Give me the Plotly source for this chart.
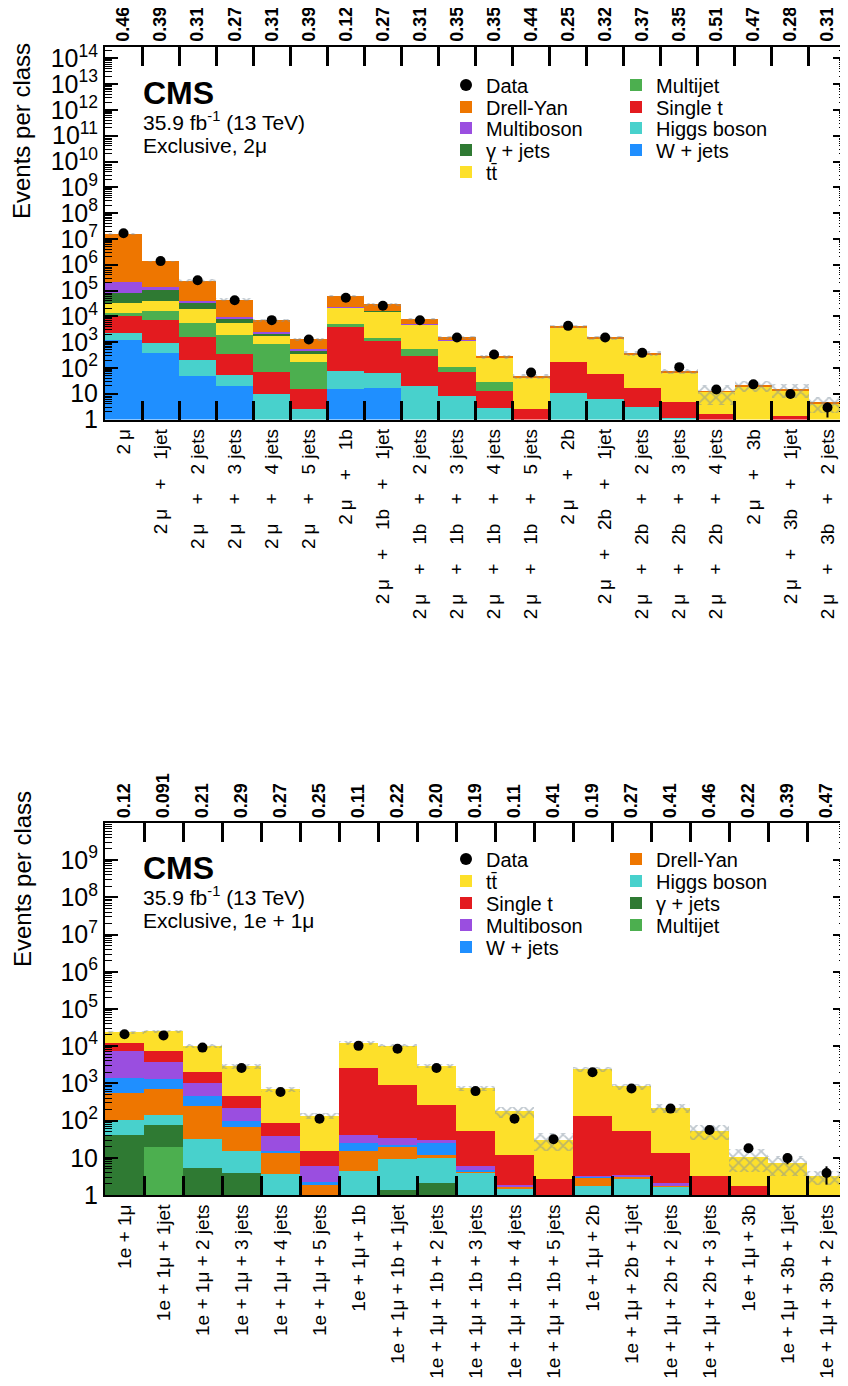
import numpy as np
import plotly.graph_objects as go

# ---------------- data: top panel (exclusive, 2 mu) ----------------
classes_2mu = ["2 μ", "2 μ + 1jet", "2 μ + 2 jets", "2 μ + 3 jets", "2 μ + 4 jets", "2 μ + 5 jets",
               "2 μ + 1b", "2 μ + 1b + 1jet", "2 μ + 1b + 2 jets", "2 μ + 1b + 3 jets",
               "2 μ + 1b + 4 jets", "2 μ + 1b + 5 jets",
               "2 μ + 2b", "2 μ + 2b + 1jet", "2 μ + 2b + 2 jets", "2 μ + 2b + 3 jets", "2 μ + 2b + 4 jets",
               "2 μ + 3b", "2 μ + 3b + 1jet", "2 μ + 3b + 2 jets"]
pvals_2mu = ["0.46", "0.39", "0.31", "0.27", "0.31", "0.39", "0.12", "0.27", "0.31", "0.35",
             "0.35", "0.44", "0.25", "0.32", "0.37", "0.35", "0.51", "0.47", "0.28", "0.31"]

wjets_2mu = [1260, 383, 49, 20, 0, 0, 15, 17, 0, 0, 0, 0, 0, 0, 0, 0, 0, 0, 0, 0]
higgs_2mu = [1090, 557, 163, 35, 10, 2.6, 60, 47, 21, 8.5, 2.9, 0.3, 10.5, 6.3, 3.2, 1.2, 0, 0, 0, 0]
singlet_2mu = [8050, 6160, 1390, 305, 60, 12.4, 3825, 1116, 272, 61, 10, 2.2, 161, 56, 14, 3.6, 1.7, 0.5, 1.4, 0.3]
multijet_2mu = [3600, 9200, 4160, 1500, 820, 158, 1350, 240, 240, 40, 16, 0, 0, 0, 0, 0, 0, 0, 0, 0]
ttbar_2mu = [19000, 25700, 14200, 3740, 970, 187, 16750, 14900, 4470, 1070, 223, 42.8, 3730, 1318, 333, 65, 10.5, 19.5, 12.6, 4.0]
gjets_2mu = [48000, 70000, 14000, 2600, 290, 130, 500, 200, 50, 10, 2, 0, 0, 0, 0, 0, 0, 0, 0, 0]
multiboson_2mu = [137000, 27000, 8000, 1600, 350, 90, 500, 200, 60, 15, 3, 0, 5, 2, 0.5, 0, 0, 0, 0, 0]
dy_2mu = [1.578e7, 1.23e6, 208000, 35200, 4600, 760, 41000, 12800, 3090, 395, 23, 4, 350, 130, 35, 7, 0.5, 2, 1.2, 0.3]
data_2mu = [1.65e7, 1.38e6, 2.5e5, 42000, 7100, 1260, 52000, 25500, 7000, 1500,
            330, 66, 4270, 1500, 383, 107, 14.5, 23, 9.8, 2.9]
data_err_2mu = [4100, 1175, 500, 205, 84, 35, 228, 160, 84, 39, 18, 8.1, 65, 39, 20, 10.3, 3.8, 4.8, 3.1, 1.7]
mcunc_2mu = [0.08, 0.08, 0.1, 0.12, 0.12, 0.15, 0.08, 0.1, 0.1, 0.12,
             0.18, 0.22, 0.15, 0.15, 0.2, 0.25, 0.7, 0.45, 0.55, 0.6]

# ---------------- data: bottom panel (exclusive, 1e + 1mu) ----------------
classes_emu = ["1e + 1μ", "1e + 1μ + 1jet", "1e + 1μ + 2 jets", "1e + 1μ + 3 jets", "1e + 1μ + 4 jets",
               "1e + 1μ + 5 jets", "1e + 1μ + 1b", "1e + 1μ + 1b + 1jet", "1e + 1μ + 1b + 2 jets",
               "1e + 1μ + 1b + 3 jets", "1e + 1μ + 1b + 4 jets", "1e + 1μ + 1b + 5 jets",
               "1e + 1μ + 2b", "1e + 1μ + 2b + 1jet", "1e + 1μ + 2b + 2 jets", "1e + 1μ + 2b + 3 jets",
               "1e + 1μ + 3b", "1e + 1μ + 3b + 1jet", "1e + 1μ + 3b + 2 jets"]
pvals_emu = ["0.12", "0.091", "0.21", "0.29", "0.27", "0.25", "0.11", "0.22", "0.20", "0.19",
             "0.11", "0.41", "0.19", "0.27", "0.41", "0.46", "0.22", "0.39", "0.47"]

multijet_emu = [0, 19.3, 0, 0, 0, 0, 0, 0, 0, 0, 0, 0, 0, 0, 0, 0, 0, 0, 0]
gjets_emu = [41, 55, 5.3, 3.9, 0, 0, 0, 1.3, 2.1, 0, 0, 0, 0, 0, 0, 0, 0, 0, 0]
higgs_emu = [62, 68, 26.7, 11.1, 3.5, 0.6, 4.3, 7.8, 7.7, 4.0, 1.45, 0, 1.66, 2.7, 1.6, 0, 0, 0, 0]
dy_emu = [422, 548, 215, 51, 9.9, 1.25, 11.1, 9.9, 1.8, 0.3, 0.15, 0, 1.29, 0.3, 0.2, 0, 0, 0, 0]
wjets_emu = [815, 570, 200, 29, 1.4, 0.35, 9.2, 2.8, 13, 0.3, 0.05, 0, 0.1, 0, 0, 0, 0, 0, 0]
multiboson_emu = [6120, 2390, 553, 119, 23.8, 3.6, 16.4, 12.2, 4.4, 1.4, 0.2, 0, 0.15, 0.3, 0.2, 0, 0, 0, 0]
singlet_emu = [4540, 3810, 1030, 233, 45.4, 9.2, 2460, 856, 228, 45, 9.8, 2.6, 126, 47.7, 10.8, 3.2, 1.7, 0.5, 0.3]
ttbar_emu = [11000, 17000, 7770, 2420, 606, 119, 9500, 9310, 2610, 679, 162, 27, 2210, 759, 201, 49, 8.8, 6.5, 2.8]
data_emu = [21000, 19500, 9150, 2590, 584, 112, 10200, 8500, 2590, 620, 112, 31.6, 1990, 730, 210, 56, 18, 9.8, 3.9]
data_err_emu = [145, 140, 96, 51, 24, 10.6, 101, 92, 51, 25, 10.6, 5.6, 45, 27, 14.5, 7.5, 4.2, 3.1, 2.0]
mcunc_emu = [0.1, 0.1, 0.12, 0.14, 0.17, 0.2, 0.1, 0.1, 0.12, 0.15,
             0.33, 0.5, 0.15, 0.18, 0.27, 0.45, 0.6, 0.55, 0.42]

# ---------------- styling ----------------
FONT = "Liberation Sans, Arial, Helvetica, sans-serif"
COL = {
    "dy": "#ee7600", "multiboson": "#9a4ee0", "gjets": "#2f7a33", "ttbar": "#fde02a",
    "multijet": "#4caf4f", "singlet": "#e31b1f", "higgs": "#48d1cc", "wjets": "#1f8fff",
}
NAMES = {
    "dy": "Drell-Yan", "multiboson": "Multiboson", "gjets": "γ + jets", "ttbar": "tt\u0304",
    "multijet": "Multijet", "singlet": "Single t", "higgs": "Higgs boson", "wjets": "W + jets",
}

# page body has an 8 px margin: work in window pixels, convert to paper
OFF = 8
W, H = 840, 1378
LEG_FONT = 20
LEG_CENTER_OFF = (LEG_FONT * 1.3 + 3) / 2 + 5


def px(sx):
    return (sx - OFF) / W


def py(sy):
    return 1 - (sy - OFF) / H


fig = go.Figure()
legends = {}
leg_counter = [0]


def new_legend(text_x, row_y):
    leg_counter[0] += 1
    name = "legend" if leg_counter[0] == 1 else "legend%d" % leg_counter[0]
    legends[name] = dict(bgcolor="rgba(0,0,0,0)", font=dict(family=FONT, size=LEG_FONT, color="black"),
                         xanchor="left", yanchor="top", itemsizing="constant", itemwidth=30,
                         borderwidth=0, x=px(text_x - 40), y=py(row_y - LEG_CENTER_OFF))
    return name


def add_panel(xa, ya, xtop, classes, comps, order, rows, data, derr, unc):
    base = np.full(len(classes), 0.01)
    for key in order:
        vals = np.array(comps[key], dtype=float)
        fig.add_trace(go.Bar(
            x=classes, y=vals, base=base.copy(), xaxis=xa, yaxis=ya,
            marker=dict(color=COL[key], line=dict(width=0)),
            name=NAMES[key], legend=new_legend(*rows[key]), hoverinfo="skip",
        ))
        base = base + vals
    total = base - 0.01
    u = np.array(unc)
    fig.add_trace(go.Bar(
        x=classes, y=2 * u * total, base=total * (1 - u), xaxis=xa, yaxis=ya,
        marker=dict(color="rgba(0,0,0,0)", line=dict(width=0),
                    pattern=dict(shape="x", fgcolor="#7f909e", bgcolor="rgba(0,0,0,0)",
                                 size=8, solidity=0.4, fillmode="overlay")),
        showlegend=False, hoverinfo="skip",
    ))
    fig.add_trace(go.Scatter(
        x=classes, y=data, xaxis=xa, yaxis=ya, mode="markers",
        marker=dict(color="black", size=10, symbol="circle"),
        error_y=dict(type="data", array=derr, color="black", thickness=2, width=0),
        name="Data", legend=new_legend(*rows["data"]), hoverinfo="skip",
    ))
    # carrier for the top category axis
    fig.add_trace(go.Scatter(
        x=classes, y=[1] * len(classes), xaxis=xtop, yaxis=ya, mode="markers",
        marker=dict(opacity=0), showlegend=False, hoverinfo="skip",
    ))


comps_2mu = dict(wjets=wjets_2mu, higgs=higgs_2mu, singlet=singlet_2mu, multijet=multijet_2mu,
                 ttbar=ttbar_2mu, gjets=gjets_2mu, multiboson=multiboson_2mu, dy=dy_2mu)
order_2mu = ["wjets", "higgs", "singlet", "multijet", "ttbar", "gjets", "multiboson", "dy"]
rows_2mu = {"data": (486, 85), "dy": (486, 107), "multiboson": (486, 128), "gjets": (486, 150),
            "ttbar": (486, 172), "multijet": (656, 85), "singlet": (656, 107), "higgs": (656, 128),
            "wjets": (656, 150)}
add_panel("x", "y", "x3", classes_2mu, comps_2mu, order_2mu, rows_2mu, data_2mu, data_err_2mu, mcunc_2mu)

comps_emu = dict(multijet=multijet_emu, gjets=gjets_emu, higgs=higgs_emu, dy=dy_emu, wjets=wjets_emu,
                 multiboson=multiboson_emu, singlet=singlet_emu, ttbar=ttbar_emu)
order_emu = ["multijet", "gjets", "higgs", "dy", "wjets", "multiboson", "singlet", "ttbar"]
rows_emu = {"data": (486, 859), "ttbar": (486, 881), "singlet": (486, 903), "multiboson": (486, 925),
            "wjets": (486, 947), "dy": (656, 859), "higgs": (656, 881), "gjets": (656, 903),
            "multijet": (656, 925)}
add_panel("x2", "y2", "x4", classes_emu, comps_emu, order_emu, rows_emu, data_emu, data_err_emu, mcunc_emu)

XD = [px(105), px(846)]
YD_TOP = [py(419.5), py(46.7)]
YD_BOT = [py(1195), py(823.3)]


def wide(s):
    return s.replace("2 μ", "2\u2009μ").replace(" + ", "\u2003+\u2003")


def xaxis_main(classes, anchor, domain, labels, standoff):
    return dict(domain=domain, anchor=anchor, type="category", categoryorder="array",
                categoryarray=classes, range=[-0.5, len(classes) - 0.5],
                tickmode="array", tickvals=classes, ticktext=labels, tickangle=-90,
                tickson="boundaries", ticks="inside", ticklen=19, tickwidth=2.5, tickcolor="black",
                showline=True, linewidth=2, linecolor="black", mirror="ticks",
                showgrid=False, zeroline=False, automargin=False, ticklabelstandoff=standoff,
                tickfont=dict(family=FONT, size=19, color="black"))


def xaxis_top(classes, overlay, anchor, pv):
    return dict(overlaying=overlay, anchor=anchor, side="top", type="category",
                categoryorder="array", categoryarray=classes, range=[-0.5, len(classes) - 0.5],
                tickmode="array", tickvals=classes, ticktext=["<b>%s</b>" % p for p in pv],
                tickangle=-90, ticks="", showline=False, showgrid=False, zeroline=False,
                automargin=False, ticklabelstandoff=4,
                tickfont=dict(family=FONT, size=18, color="black"))


def yaxis_log(domain, anchor, rng):
    return dict(domain=domain, anchor=anchor, type="log", range=rng, dtick=1,
                exponentformat="power", ticks="inside", ticklen=13, tickwidth=2, tickcolor="black",
                showline=True, linewidth=2, linecolor="black", mirror="ticks",
                showgrid=False, zeroline=False, automargin=False, ticklabelstandoff=1,
                tickfont=dict(family=FONT, size=20, color="black"),
                minor=dict(ticks="inside", ticklen=7, tickwidth=1, tickcolor="black", showgrid=False))


fig.update_layout(
    width=W, height=H, margin=dict(l=0, r=0, t=0, b=0),
    paper_bgcolor="white", plot_bgcolor="white",
    barmode="overlay", bargap=0,
    font=dict(family=FONT, color="black"),
    xaxis=xaxis_main(classes_2mu, "y", XD, [wide(c) for c in classes_2mu], 0),
    xaxis3=xaxis_top(classes_2mu, "x", "y", pvals_2mu),
    yaxis=yaxis_log(YD_TOP, "x", [0, 14.45]),
    xaxis2=xaxis_main(classes_emu, "y2", XD, classes_emu, 0),
    xaxis4=xaxis_top(classes_emu, "x2", "y2", pvals_emu),
    yaxis2=yaxis_log(YD_BOT, "x2", [0, 9.99]),
    showlegend=True,
    **legends,
)

ann = []
for (ycms, ylumi, yexcl, label, ytitle) in [(93, 121, 146, "Exclusive, 2μ", 131),
                                             (868, 896, 920, "Exclusive, 1e + 1μ", 879)]:
    ann.append(dict(text="<b>CMS</b>", x=px(141), y=py(ycms), xref="paper", yref="paper",
                    xanchor="left", yanchor="middle", showarrow=False,
                    font=dict(family=FONT, size=32, color="black")))
    ann.append(dict(text="35.9 fb<sup>-1</sup> (13 TeV)", x=px(141), y=py(ylumi), xref="paper",
                    yref="paper", xanchor="left", yanchor="middle", showarrow=False,
                    font=dict(family=FONT, size=21, color="black")))
    ann.append(dict(text=label, x=px(141), y=py(yexcl), xref="paper", yref="paper",
                    xanchor="left", yanchor="middle", showarrow=False,
                    font=dict(family=FONT, size=21, color="black")))
    ann.append(dict(text="Events per class", x=px(22), y=py(ytitle), xref="paper", yref="paper",
                    xanchor="center", yanchor="middle", textangle=-90, showarrow=False,
                    font=dict(family=FONT, size=24, color="black")))
fig.update_layout(annotations=ann)

fig.write_html("out.html")
